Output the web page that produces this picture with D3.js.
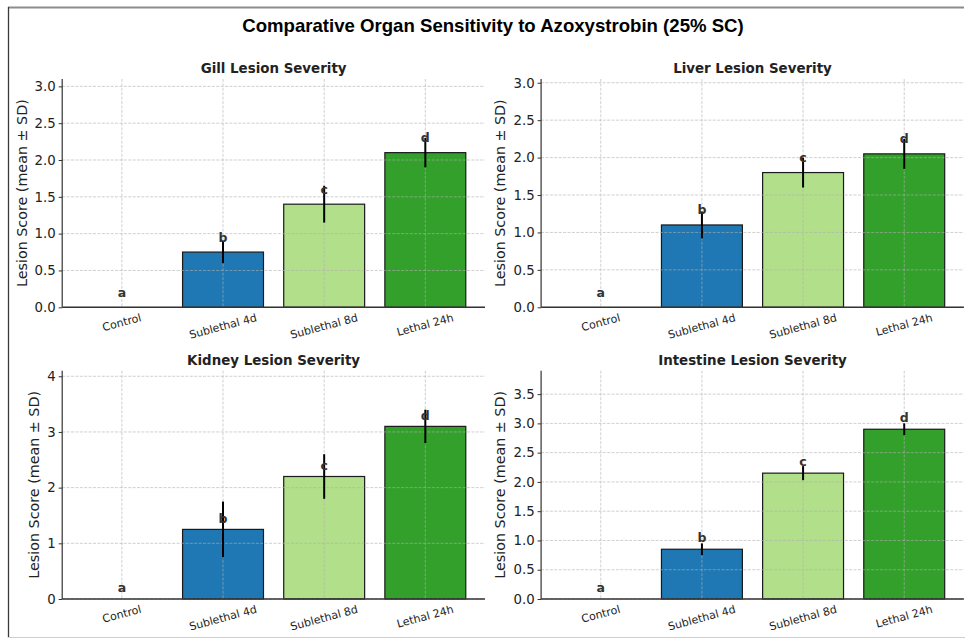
<!DOCTYPE html>
<html>
<head>
<meta charset="utf-8">
<script src="https://cdn.jsdelivr.net/npm/d3@7"></script>
<style>
  html, body { margin: 0; padding: 0; background: #fff; }
  svg { display: block; }
</style>
</head>
<body>
<svg id="chart" width="965" height="640"></svg>
<script>
// ---------------- data ----------------
const mainTitle = "Comparative Organ Sensitivity to Azoxystrobin (25% SC)";
const categories = ["Control", "Sublethal 4d", "Sublethal 8d", "Lethal 24h"];
const letters = ["a", "b", "c", "d"];
const barColors = ["#a6cee3", "#1f78b4", "#b2df8a", "#33a02c"];
const yLabel = "Lesion Score (mean \u00b1 SD)";

const organTitles = ["Gill Lesion Severity", "Liver Lesion Severity", "Kidney Lesion Severity", "Intestine Lesion Severity"];
const gillMeans = [0, 0.75, 1.40, 2.10];
const gillSD = [0, 0.15, 0.25, 0.20];
const liverMeans = [0, 1.10, 1.80, 2.05];
const liverSD = [0, 0.18, 0.20, 0.20];
const kidneyMeans = [0, 1.25, 2.20, 3.10];
const kidneySD = [0, 0.50, 0.40, 0.30];
const intestineMeans = [0, 0.85, 2.15, 2.90];
const intestineSD = [0, 0.10, 0.12, 0.10];

const gillTicks = [0, 0.5, 1.0, 1.5, 2.0, 2.5, 3.0];
const liverTicks = [0, 0.5, 1.0, 1.5, 2.0, 2.5, 3.0];
const kidneyTicks = [0, 1, 2, 3, 4];
const intestineTicks = [0, 0.5, 1.0, 1.5, 2.0, 2.5, 3.0, 3.5];

const panels = [
  { title: organTitles[0], means: gillMeans, sd: gillSD, ticks: gillTicks, fmt: ".1f", col: 0, row: 0 },
  { title: organTitles[1], means: liverMeans, sd: liverSD, ticks: liverTicks, fmt: ".1f", col: 1, row: 0 },
  { title: organTitles[2], means: kidneyMeans, sd: kidneySD, ticks: kidneyTicks, fmt: "d", col: 0, row: 1 },
  { title: organTitles[3], means: intestineMeans, sd: intestineSD, ticks: intestineTicks, fmt: ".1f", col: 1, row: 1 }
];

// ---------------- layout ----------------
const svg = d3.select("#chart");
const colLeft = [62.2, 541.1];
const plotW = 422.8;
const rowTop = [79.0, 370.7];
const plotH = 228.3;
const sans = "'DejaVu Sans', sans-serif";

svg.append("rect").attr("x", 0).attr("y", 0).attr("width", 965).attr("height", 640).attr("fill", "#fff");

// outer frame (partially cropped figure border)
svg.append("line").attr("x1", 8).attr("x2", 964).attr("y1", 7.5).attr("y2", 7.5)
  .attr("stroke", "#8c8c8c").attr("stroke-width", 2);
svg.append("line").attr("x1", 8.5).attr("x2", 8.5).attr("y1", 7).attr("y2", 637.5)
  .attr("stroke", "#3a3a3a").attr("stroke-width", 1.3);
svg.append("line").attr("x1", 8).attr("x2", 965).attr("y1", 637.5).attr("y2", 637.5)
  .attr("stroke", "#cfcfcf").attr("stroke-width", 1);

svg.append("text")
  .attr("x", 493).attr("y", 31.6)
  .attr("text-anchor", "middle")
  .style("font-family", "'Liberation Sans', Arial, sans-serif")
  .style("font-weight", "bold")
  .style("font-size", "18.6px")
  .attr("fill", "#000")
  .text(mainTitle);

panels.forEach(p => {
  const left = colLeft[p.col];
  const top = rowTop[p.row];
  const bottom = top + plotH;
  const ymax = d3.max(p.means) + 1.0;

  const x = d3.scaleLinear().domain([-0.59, 3.59]).range([left, left + plotW]);
  const y = d3.scaleLinear().domain([0, ymax]).range([bottom, top]);
  const g = svg.append("g");

  // bars
  g.selectAll("rect.bar").data(categories).enter().append("rect")
    .attr("class", "bar")
    .attr("x", (d, i) => x(i - 0.4))
    .attr("width", (d, i) => x(i + 0.4) - x(i - 0.4))
    .attr("y", (d, i) => y(p.means[i]))
    .attr("height", (d, i) => y(0) - y(p.means[i]))
    .attr("fill", (d, i) => barColors[i])
    .attr("stroke", "#1a1a1a")
    .attr("stroke-width", 1.2);

  // grid (drawn above bars, like matplotlib default zorder)
  const grid = g.append("g").attr("stroke", "#b0b0b0").attr("stroke-opacity", 0.75)
    .attr("stroke-width", 0.8).attr("stroke-dasharray", "3,1.4");
  grid.selectAll("line.h").data(p.ticks).enter().append("line")
    .attr("x1", left).attr("x2", left + plotW)
    .attr("y1", d => y(d)).attr("y2", d => y(d));
  grid.selectAll("line.v").data(categories).enter().append("line")
    .attr("x1", (d, i) => x(i)).attr("x2", (d, i) => x(i))
    .attr("y1", top).attr("y2", bottom);

  // error bars
  g.selectAll("line.err").data(categories).enter().append("line")
    .attr("x1", (d, i) => x(i)).attr("x2", (d, i) => x(i))
    .attr("y1", (d, i) => y(p.means[i] - p.sd[i]))
    .attr("y2", (d, i) => y(p.means[i] + p.sd[i]))
    .attr("stroke", "#000").attr("stroke-width", 2);

  // significance letters
  g.selectAll("text.letter").data(letters).enter().append("text")
    .attr("x", (d, i) => x(i))
    .attr("y", (d, i) => y(p.means[i] + 0.2) + 4.4)
    .attr("text-anchor", "middle")
    .style("font-family", sans).style("font-weight", "bold").style("font-size", "12.5px")
    .attr("fill", "#333")
    .text(d => d);

  // y axis
  const yAxis = d3.axisLeft(y).tickValues(p.ticks).tickSize(3.5).tickPadding(3)
    .tickFormat(d3.format(p.fmt));
  const ya = g.append("g").attr("transform", `translate(${left},0)`).call(yAxis);
  ya.select(".domain").attr("d", `M0,${top}V${bottom}`).attr("stroke", "#333").attr("stroke-width", 1.2);
  ya.selectAll(".tick line").attr("stroke", "#333").attr("stroke-width", 1);
  ya.selectAll(".tick text").style("font-family", sans).style("font-size", "13.3px").attr("fill", "#222");

  // bottom spine
  g.append("line").attr("x1", left).attr("x2", left + plotW).attr("y1", bottom).attr("y2", bottom)
    .attr("stroke", "#333").attr("stroke-width", 1.4);

  // x tick labels, rotated 15 deg, bbox centered under tick
  const angle = 15 * Math.PI / 180;
  categories.forEach((c, i) => {
    const t = g.append("text")
      .attr("text-anchor", "middle").attr("dominant-baseline", "central")
      .style("font-family", sans).style("font-size", "11px").attr("fill", "#222")
      .text(c);
    const w = t.node().getComputedTextLength();
    const h = 12.8;
    const bh = w * Math.sin(angle) + h * Math.cos(angle);
    const cx = x(i), cy = bottom + 4 + bh / 2;
    t.attr("x", cx).attr("y", cy).attr("transform", `rotate(-15,${cx},${cy})`);
  });

  // y label
  let minLeft = Infinity;
  ya.selectAll(".tick text").each(function () { minLeft = Math.min(minLeft, this.getBBox().x + left); });
  const lx = minLeft - 13, ly = (top + bottom) / 2;
  g.append("text")
    .attr("x", lx).attr("y", ly)
    .attr("transform", `rotate(-90,${lx},${ly})`)
    .attr("text-anchor", "middle").attr("dominant-baseline", "central")
    .style("font-family", sans).style("font-size", "14.3px").attr("fill", "#222")
    .text(yLabel);

  // subplot title
  g.append("text")
    .attr("x", left + plotW / 2).attr("y", top - 6)
    .attr("text-anchor", "middle")
    .style("font-family", sans).style("font-weight", "bold").style("font-size", "13.4px")
    .attr("fill", "#222")
    .text(p.title);
});
</script>
</body>
</html>
